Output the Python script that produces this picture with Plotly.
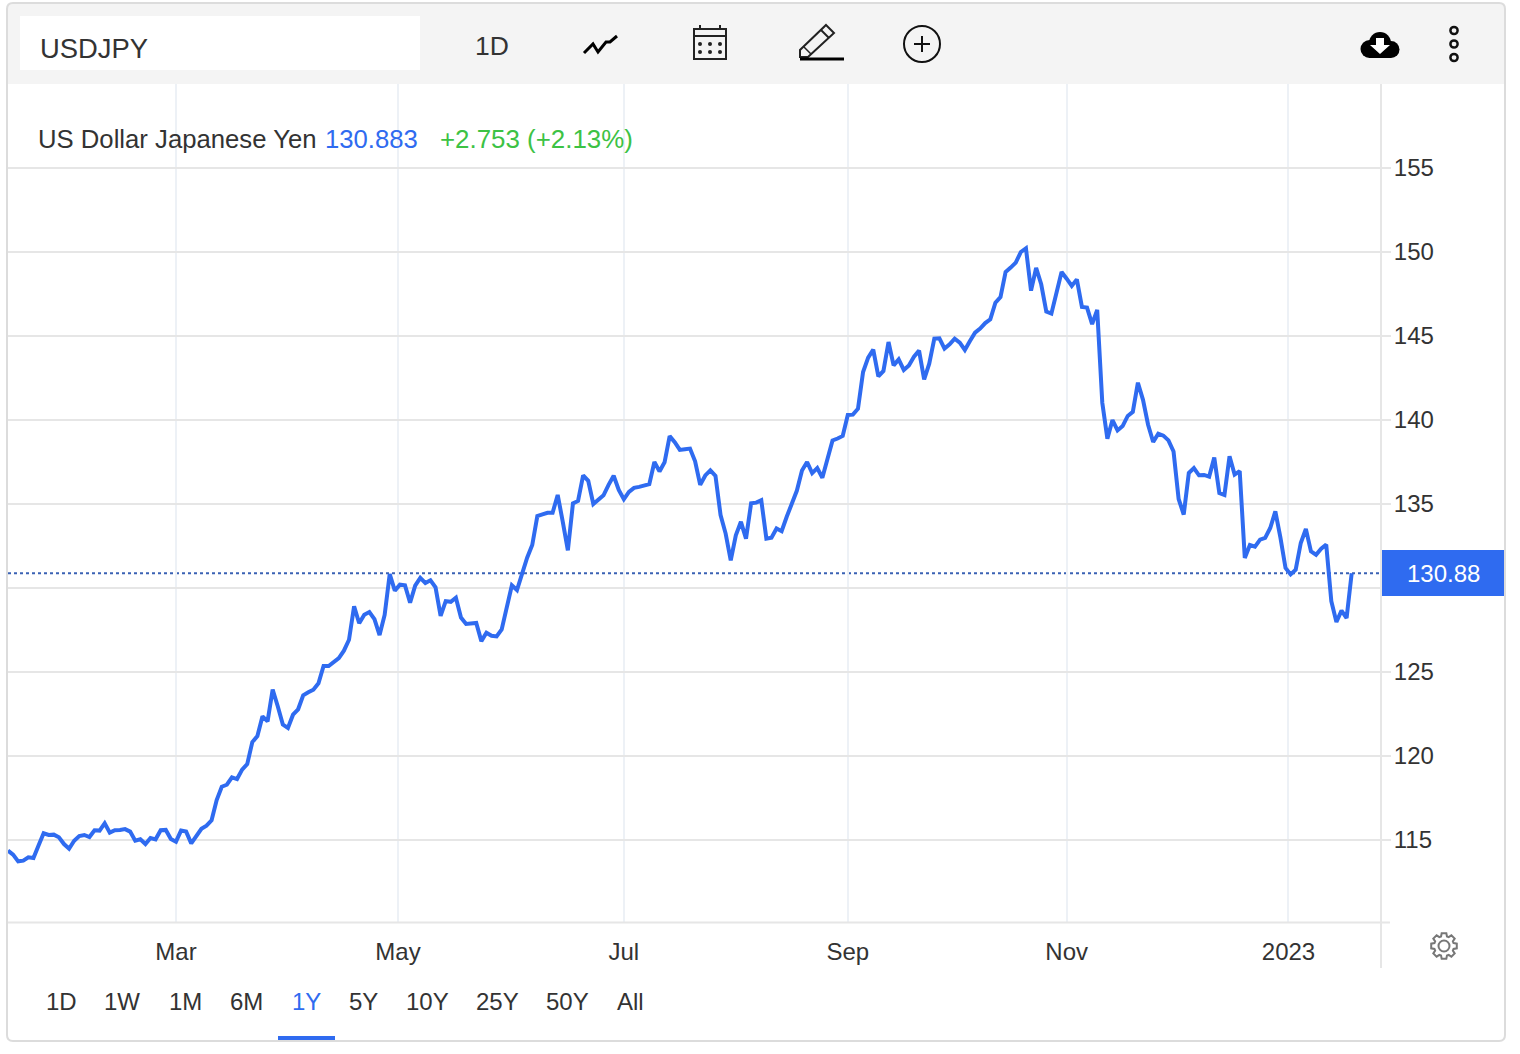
import math
import pandas as pd
import plotly.graph_objects as go

TITLE = "US Dollar Japanese Yen"
SYMBOL = "USDJPY"
LAST_TEXT = "130.883"
CHANGE_TEXT = "+2.753 (+2.13%)"
LAST_LABEL = "130.88"
LAST_VALUE = 130.883
START_DATE = "2022-01-13"
RANGES = ["1D", "1W", "1M", "6M", "1Y", "5Y", "10Y", "25Y", "50Y", "All"]
RANGE_X = [61, 122, 185, 247, 306, 363, 427, 497, 567, 630]
X_TICK_DATES = ["2022-03-01", "2022-04-29 15:00", "2022-07-01", "2022-09-01", "2022-11-01", "2022-12-30 14:00"]
X_TICK_TEXT = ["Mar", "May", "Jul", "Sep", "Nov", "2023"]
Y_TICKS = [115, 120, 125, 130, 135, 140, 145, 150, 155]
Y_TICK_TEXT = ["115", "120", "125", "", "135", "140", "145", "150", "155"]

PRICES_Q1 = [
    114.37, 114.13, 113.73, 113.77, 113.97, 113.93, 114.68, 115.40, 115.30, 115.32,
    115.16, 114.76, 114.48, 114.96, 115.24, 115.30, 115.18, 115.58, 115.56, 116.00,
    115.44, 115.58, 115.60, 115.65, 115.50, 114.96, 115.04, 114.76, 115.12, 115.04,
    115.58, 115.60, 115.06, 114.90, 115.56, 115.50, 114.80, 115.28, 115.67, 115.85,
    116.17, 117.38, 118.17, 118.29, 118.73, 118.63, 119.19, 119.52, 120.83, 121.19,
    122.36, 122.06, 123.95, 122.96, 121.87, 121.67, 122.46, 122.78, 123.61, 123.79,
    123.95, 124.33, 125.36, 125.36, 125.63, 125.83, 126.27, 126.92, 128.91, 127.90,
    128.41, 128.57, 128.15, 127.20, 128.40, 130.83, 129.84,
]
PRICES_Q2 = [
    130.20, 130.16, 129.12, 130.14, 130.60, 130.30, 130.46, 130.04, 128.34, 129.22,
    129.18, 129.42, 128.24, 127.86, 127.90, 127.92, 126.84, 127.34, 127.16, 127.12,
    127.54, 128.74, 130.16, 129.88, 130.84, 131.80, 132.56, 134.28, 134.38, 134.48,
    134.48, 135.54, 133.94, 132.24, 135.04, 135.18, 136.70, 136.38, 135.00, 135.24,
    135.52, 136.14, 136.68, 135.84, 135.28, 135.72, 135.96, 136.02, 136.08, 136.18,
    137.50, 136.94, 137.48, 139.04, 138.68, 138.22, 138.26, 138.30, 137.54, 136.14,
    136.70, 137.00, 136.68, 134.34, 133.24, 131.64, 133.14, 133.94, 132.94, 135.04,
    135.08, 135.22, 132.94, 133.00, 133.54, 133.38, 134.24, 135.04, 135.80, 137.00,
    137.50, 136.84, 137.14, 136.56, 137.60, 138.78, 138.90,
]
PRICES_Q3 = [
    139.05, 140.30, 140.32, 140.67, 142.86, 143.71, 144.19, 142.60, 142.92, 144.64,
    143.25, 143.61, 142.98, 143.25, 143.77, 144.13, 142.42, 143.35, 144.84, 144.86,
    144.25, 144.50, 144.84, 144.60, 144.17, 144.70, 145.20, 145.44, 145.77, 145.99,
    146.98, 147.32, 148.81, 149.07, 149.37, 150.00, 150.22, 147.70, 149.05, 148.08,
    146.45, 146.33, 147.58, 148.81, 148.41, 147.98, 148.37, 146.73, 146.69, 145.71,
    146.55, 141.03, 138.89, 140.00, 139.38, 139.64, 140.24, 140.48, 142.22,
]
PRICES_Q4 = [
    141.20, 139.72, 138.69, 139.19, 139.07, 138.79, 138.13, 135.30, 134.37, 136.85,
    137.14, 136.71, 136.73, 136.63, 137.76, 135.65, 135.54, 137.84, 136.75, 136.96,
    131.79, 132.56, 132.46, 132.88, 132.98, 133.57, 134.56, 133.00, 131.19, 130.81,
    131.09, 132.68, 133.51, 132.18, 131.98, 132.34, 132.58, 129.21, 127.98, 128.65,
    128.21, 130.883,
]
prices = PRICES_Q1 + PRICES_Q2 + PRICES_Q3 + PRICES_Q4
dates = pd.bdate_range(START_DATE, periods=len(prices))

W, H = 1520, 1054
L, R, T, B = 8, 1381, 84, 922
BLUE = "#2f6bf0"
GREEN = "#3cc244"
TEXT = "#333333"
FONT = "Liberation Sans"


def px(x):
    return (x - L) / (R - L)


def py(y):
    return (B - y) / (B - T)


def path(points, close=False):
    s = "M " + " L ".join(f"{px(x):.5f},{py(y):.5f}" for x, y in points)
    return s + (" Z" if close else "")


shapes = []


def rect(x0, y0, x1, y1, fill=None, line=None, lw=0, layer="above"):
    shapes.append(dict(type="rect", xref="paper", yref="paper", x0=px(x0), x1=px(x1), y0=py(y0), y1=py(y1),
                       fillcolor=fill or "rgba(0,0,0,0)", line=dict(color=line or "rgba(0,0,0,0)", width=lw), layer=layer))


def circle(cx, cy, r, fill=None, line=None, lw=0):
    shapes.append(dict(type="circle", xref="paper", yref="paper", x0=px(cx - r), x1=px(cx + r), y0=py(cy + r), y1=py(cy - r),
                       fillcolor=fill or "rgba(0,0,0,0)", line=dict(color=line or "rgba(0,0,0,0)", width=lw), layer="above"))


def poly(points, fill=None, line=None, lw=0, close=False, layer="above"):
    shapes.append(dict(type="path", xref="paper", yref="paper", path=path(points, close),
                       fillcolor=fill or "rgba(0,0,0,0)", line=dict(color=line or "rgba(0,0,0,0)", width=lw), layer=layer))


# backing of the title text
rect(9, 113, 640, 160, fill="white", layer="below")

# toolbar
rect(8, 4, 1504, 84, fill="#f4f4f4")
rect(20, 16, 420, 70, fill="white")

# card border
r = 6
x0, y0, x1, y1 = 7, 3, 1505, 1041
shapes.append(dict(
    type="path", xref="paper", yref="paper",
    path=(f"M {px(x0+r)},{py(y0)} L {px(x1-r)},{py(y0)} Q {px(x1)},{py(y0)} {px(x1)},{py(y0+r)} "
          f"L {px(x1)},{py(y1-r)} Q {px(x1)},{py(y1)} {px(x1-r)},{py(y1)} "
          f"L {px(x0+r)},{py(y1)} Q {px(x0)},{py(y1)} {px(x0)},{py(y1-r)} "
          f"L {px(x0)},{py(y0+r)} Q {px(x0)},{py(y0)} {px(x0+r)},{py(y0)} Z"),
    line=dict(color="#dcdcdc", width=2), fillcolor="rgba(0,0,0,0)", layer="above"))

# chart frame lines
poly([(1381, 84), (1381, 968)], line="#e6e6e6", lw=2)
poly([(8, 922.5), (1390, 922.5)], line="#e6e6e6", lw=2)

# chart-type icon
poly([(584, 53), (593, 44), (598, 52), (606, 42), (610, 42), (617, 36)], line="#000000", lw=3)

# calendar icon
rect(694, 29, 726, 59, line="#222222", lw=2)
poly([(694, 36), (726, 36)], line="#222222", lw=2)
poly([(700, 25), (700, 29)], line="#222222", lw=2)
poly([(720, 25), (720, 29)], line="#222222", lw=2)
for cy in (44, 52):
    for cx in (700, 710, 720):
        circle(cx, cy, 2, fill="#222222")

# pencil icon
poly([(826, 25), (834, 33), (808, 57), (800, 57), (800, 50)], line="#222222", lw=2, close=True)
poly([(821, 30), (829, 38)], line="#222222", lw=2)
poly([(804, 47), (811, 54)], line="#222222", lw=1.5)
poly([(800, 59), (844, 59)], line="#000000", lw=3)

# add icon
circle(922, 44, 18, line="#111111", lw=2)
poly([(914, 44), (930, 44)], line="#111111", lw=2)
poly([(922, 36), (922, 52)], line="#111111", lw=2)

# download cloud icon
circle(1369.5, 49, 9, fill="#000000")
circle(1380, 43, 11, fill="#000000")
circle(1391, 49.5, 8.5, fill="#000000")
rect(1369, 46, 1391, 58, fill="#000000")
poly([(1376, 38), (1384, 38), (1384, 45), (1390, 45), (1380, 54), (1370, 45), (1376, 45)], fill="#ffffff", close=True)

# menu icon
for cy in (30.5, 44, 57.5):
    circle(1454, cy, 3.6, line="#111111", lw=2.5)

# last value tag
rect(1382, 550, 1504, 596, fill=BLUE)

# range underline
rect(278, 1036, 335, 1040, fill=BLUE)

# gear icon
gcx, gcy = 1444, 946
gear = []
for k in range(8):
    a = k * math.pi / 4
    for da, rad in ((-0.30, 10), (-0.18, 13), (0.18, 13), (0.30, 10)):
        gear.append((gcx + rad * math.cos(a + da), gcy + rad * math.sin(a + da)))
poly(gear, line="#777777", lw=2, close=True)
circle(gcx, gcy, 5.5, line="#777777", lw=2)

# last value line
shapes.append(dict(type="line", xref="paper", yref="y", x0=0, x1=1, y0=LAST_VALUE, y1=LAST_VALUE,
                   line=dict(color="#3a62b4", width=2, dash="dot"), layer="below"))


def note(x, y, text, size, color=TEXT, anchor="left"):
    return dict(xref="paper", yref="paper", x=px(x), y=py(y), text=text, showarrow=False, xanchor=anchor, yanchor="middle",
                font=dict(family=FONT, size=size, color=color), borderpad=0, borderwidth=0)


annotations = [
    note(40, 48, SYMBOL, 27.4),
    note(492, 46, "1D", 26.5, anchor="center"),
    note(38, 139, TITLE, 25.7),
    note(325, 139, LAST_TEXT, 25.7, color=BLUE),
    note(440, 139, CHANGE_TEXT, 25.9, color=GREEN),
    note(1443, 573, LAST_LABEL, 24, color="#ffffff", anchor="center"),
]
for label, x in zip(RANGES, RANGE_X):
    annotations.append(note(x, 1001, label, 24, color=BLUE if label == "1Y" else TEXT, anchor="center"))

fig = go.Figure(go.Scatter(x=dates, y=prices, mode="lines", line=dict(color=BLUE, width=4), hoverinfo="skip"))
fig.update_layout(
    width=W, height=H, margin=dict(l=L, r=W - R, t=T, b=H - B, autoexpand=False),
    paper_bgcolor="white", plot_bgcolor="white", showlegend=False,
    shapes=shapes, annotations=annotations, font=dict(family=FONT, color=TEXT),
    xaxis=dict(
        range=["2022-01-13", "2023-01-25 18:15"], rangebreaks=[dict(bounds=["sat", "mon"])],
        tickmode="array", tickvals=X_TICK_DATES, ticktext=X_TICK_TEXT, tickangle=0,
        showgrid=True, gridcolor="#edf1f6", gridwidth=2, zeroline=False, showline=False,
        ticks="outside", ticklen=8, tickcolor="rgba(0,0,0,0)", tickfont=dict(family=FONT, size=24, color=TEXT),
    ),
    yaxis=dict(
        range=[110.12, 160.0], side="right", tickmode="array", tickvals=Y_TICKS, ticktext=Y_TICK_TEXT,
        showgrid=True, gridcolor="#e6e6e6", gridwidth=2, zeroline=False, showline=False,
        ticks="outside", ticklen=9, tickwidth=2, tickcolor="#e6e6e6", ticklabelstandoff=-2,
        tickfont=dict(family=FONT, size=24, color=TEXT),
    ),
)
fig.write_html("out.html", config=dict(displayModeBar=False),
               post_script="document.body.style.margin='0';document.body.style.overflow='hidden';")
